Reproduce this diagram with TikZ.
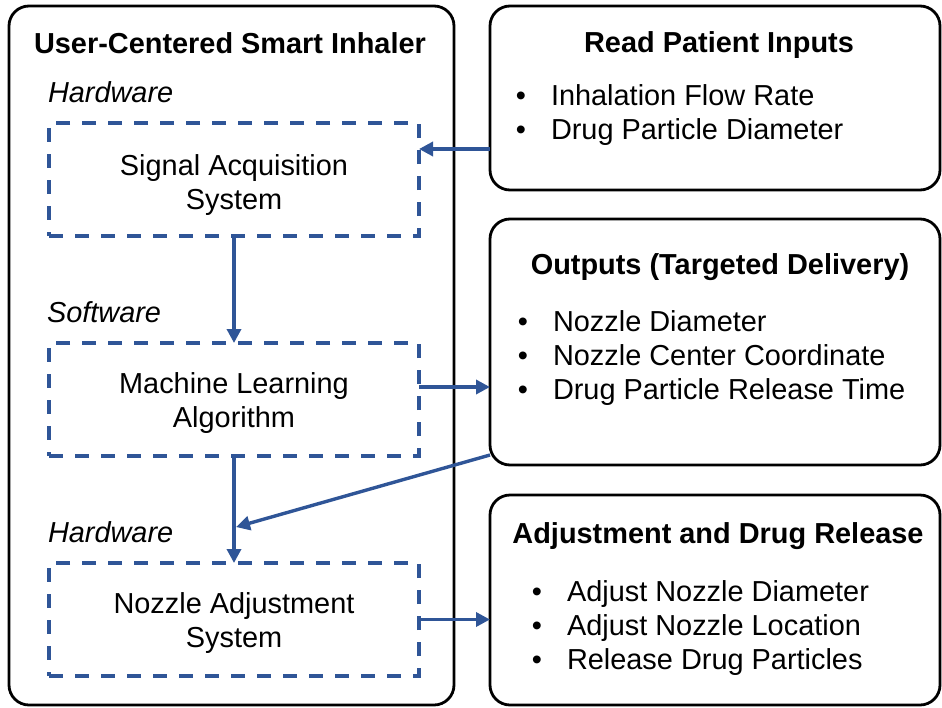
\documentclass[tikz,border=0pt]{standalone}
\usepackage{fontspec}
\setmainfont{Liberation Sans}
\usetikzlibrary{arrows.meta,calc}
\definecolor{dblue}{HTML}{2F5597}
\begin{document}
\begin{tikzpicture}[x=1pt,y=-1pt,
  every node/.style={inner sep=0pt,outer sep=0pt,font=\fontsize{28.9}{34}\selectfont},
  solidbox/.style={draw=black,line width=2.8pt,rounded corners=20pt,minimum width=#1},
  dashbox/.style={draw=dblue,line width=3.4pt,dash pattern=on 14pt off 12pt,minimum width=370pt,minimum height=113pt},
  arr/.style={draw=dblue,line width=3.4pt,-{Triangle[length=14pt,width=14pt]}},
  ttl/.style={anchor=base,font=\fontsize{28.9}{34}\selectfont\bfseries},
  lbl/.style={anchor=base west,font=\fontsize{28.9}{34}\selectfont\itshape},
  txt/.style={anchor=base west},
  bul/.style={anchor=base}]
\useasboundingbox (0,0) rectangle (942,707);
% outer boxes
\node[solidbox=445pt,minimum height=699pt] (main) at (231.5,355.5) {};
\node[solidbox=450pt,minimum height=184pt] (read) at (715,98) {};
\node[solidbox=450pt,minimum height=246pt] (out) at (715,342) {};
\node[solidbox=450pt,minimum height=210pt] (adj) at (715,600) {};
% dashed boxes
\node[dashbox] (sig) at (234,179.5) {};
\node[dashbox] (ml) at (234,399.5) {};
\node[dashbox] (noz) at (234,619.5) {};
% left texts
\node[ttl] (t1) at (230,53) {User-Centered Smart Inhaler};
\node[lbl] (h1) at (48,102) {Hardware};
\node[bul] (s1) at (234,175) {Signal Acquisition};
\node[bul] (s2) at (234,209) {System};
\node[lbl] (sw) at (47,322) {Software};
\node[bul] (m1) at (234,393) {Machine Learning};
\node[bul] (m2) at (234,427) {Algorithm};
\node[lbl] (h2) at (48,542) {Hardware};
\node[bul] (n1) at (234,613) {Nozzle Adjustment};
\node[bul] (n2) at (234,647) {System};
% right texts
\node[ttl] (t2) at (719,52) {Read Patient Inputs};
\node[bul] (b1) at (521,105) {•};
\node[txt] (r1) at (551,105) {Inhalation Flow Rate};
\node[bul] (b2) at (521,139) {•};
\node[txt] (r2) at (551,139) {Drug Particle Diameter};
\node[ttl] (t3) at (720,274) {Outputs (Targeted Delivery)};
\node[bul] (b3) at (523,331) {•};
\node[txt] (o1) at (553,331) {Nozzle Diameter};
\node[bul] (b4) at (523,365) {•};
\node[txt] (o2) at (553,365) {Nozzle Center Coordinate};
\node[bul] (b5) at (523,399) {•};
\node[txt] (o3) at (553,399) {Drug Particle Release Time};
\node[ttl] (t4) at (718,543) {Adjustment and Drug Release};
\node[bul] (b6) at (537,601) {•};
\node[txt] (a1) at (567,601) {Adjust Nozzle Diameter};
\node[bul] (b7) at (537,635) {•};
\node[txt] (a2) at (567,635) {Adjust Nozzle Location};
\node[bul] (b8) at (537,669) {•};
\node[txt] (a3) at (567,669) {Release Drug Particles};
% connectors
\draw[arr] ([yshift=-51pt]read.west) -- ([yshift=-51pt]read.west -| sig.east);
\draw[arr] (sig.south) -- (ml.north);
\draw[arr] ([yshift=12.5pt]ml.east) -- ([yshift=12.5pt]ml.east -| out.west);
\draw[arr] (ml.south) -- (noz.north);
\draw[arr] ([yshift=10pt]out.south west) -- ([xshift=2pt]$(ml.south)!0.664!(noz.north)$);
\draw[arr] (noz.east) -- (noz.east -| adj.west);
\end{tikzpicture}
\end{document}
